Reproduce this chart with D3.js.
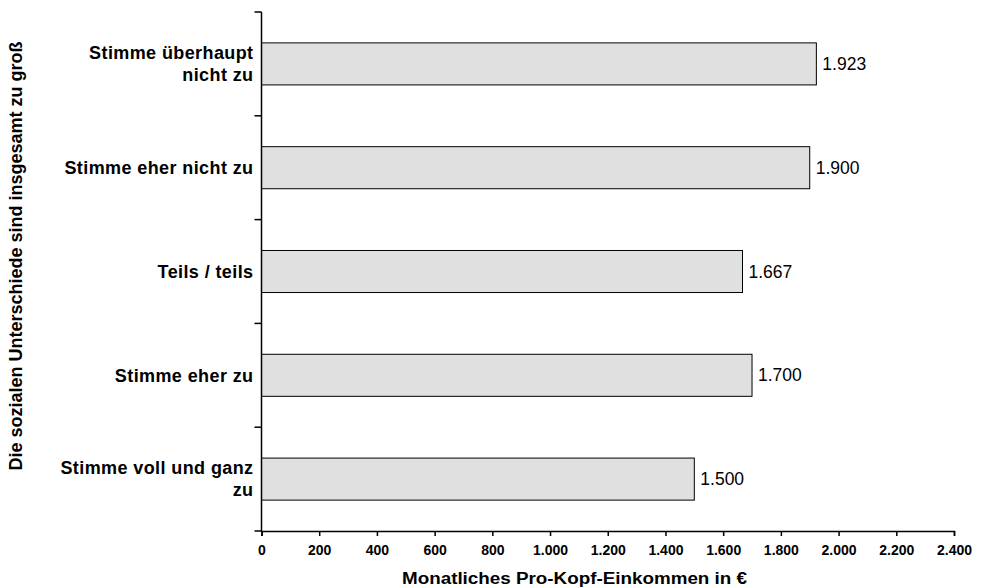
<!DOCTYPE html>
<html>
<head>
<meta charset="utf-8">
<script src="https://cdn.jsdelivr.net/npm/d3@7"></script>
<style>
  body { margin: 0; background: #fff; }
  svg { display: block; font-family: "Liberation Sans", Arial, sans-serif; }
</style>
</head>
<body>
<svg id="chart" width="988" height="588"></svg>
<script>
// Answer categories (top to bottom) and monthly per-capita income
const categories = [
  ["Stimme überhaupt", "nicht zu"],
  ["Stimme eher nicht zu"],
  ["Teils / teils"],
  ["Stimme eher zu"],
  ["Stimme voll und ganz", "zu"]
];
const incomes = [1923, 1900, 1667, 1700, 1500];
const xTicks = [0, 200, 400, 600, 800, 1000, 1200, 1400, 1600, 1800, 2000, 2200, 2400];
const xTitle = "Monatliches Pro-Kopf-Einkommen in €";
const yTitle = "Die sozialen Unterschiede sind insgesamt zu groß";

const svg = d3.select("#chart");
const m = { left: 261.5, right: 34, top: 12, bottom: 57 };
const W = 988, H = 588;

const fmt = v => d3.format(",")(v).replace(/,/g, ".");

const x = d3.scaleLinear().domain([0, 2400]).range([m.left, W - m.right]);
const y = d3.scaleBand().domain(d3.range(categories.length))
  .range([m.top, H - m.bottom]).paddingInner(0.595).paddingOuter(0.2975);

// bars
svg.append("g").selectAll("rect").data(incomes).join("rect")
  .attr("x", x(0)).attr("y", (d, i) => y(i))
  .attr("width", d => x(d) - x(0)).attr("height", y.bandwidth())
  .attr("fill", "#e0e0e0").attr("stroke", "#000").attr("stroke-width", 1);

// value labels
svg.append("g").selectAll("text").data(incomes).join("text")
  .attr("x", d => x(d) + 6).attr("y", (d, i) => y(i) + y.bandwidth() / 2)
  .attr("dy", "0.35em").attr("font-size", 17.5).attr("fill", "#000")
  .text(d => fmt(d));

// y axis line and boundary ticks
const yEdges = d3.range(categories.length + 1).map(i => m.top + i * (H - m.bottom - m.top) / categories.length);
svg.append("line").attr("x1", m.left).attr("x2", m.left)
  .attr("y1", m.top).attr("y2", H - m.bottom).attr("stroke", "#000").attr("stroke-width", 1.5);
svg.append("g").selectAll("line").data(yEdges).join("line")
  .attr("x1", m.left - 7).attr("x2", m.left).attr("y1", d => d).attr("y2", d => d)
  .attr("stroke", "#000").attr("stroke-width", 1.5);

// category labels
const catG = svg.append("g").selectAll("text").data(categories).join("text")
  .attr("text-anchor", "end").attr("font-size", 18).attr("font-weight", "bold")
  .attr("letter-spacing", 0.4).attr("fill", "#000");
catG.each(function(lines, i) {
  const t = d3.select(this);
  const cy = y(i) + y.bandwidth() / 2;
  const lh = 22;
  lines.forEach((ln, k) => {
    t.append("tspan").attr("x", m.left - 8)
      .attr("y", cy + (k - (lines.length - 1) / 2) * lh)
      .attr("dy", "0.35em").text(ln);
  });
});

// x axis
const xAxis = d3.axisBottom(x).tickValues(xTicks).tickSize(5).tickPadding(9).tickFormat(fmt);
const gx = svg.append("g").attr("transform", `translate(0,${H - m.bottom})`).call(xAxis);
gx.select(".domain").attr("stroke", "#000").attr("stroke-width", 1.5);
gx.selectAll(".tick line").attr("stroke", "#000").attr("stroke-width", 1.5);
gx.selectAll(".tick text").attr("font-size", 14).attr("font-weight", "bold")
  .attr("font-family", "Liberation Sans, Arial, sans-serif").attr("fill", "#000");

// axis titles
svg.append("text").attr("x", 574.5).attr("y", 584).attr("text-anchor", "middle")
  .attr("font-size", 16).attr("font-weight", "bold")
  .attr("textLength", 345).attr("lengthAdjust", "spacingAndGlyphs").text(xTitle);
svg.append("text").attr("transform", "translate(22,256) rotate(-90)")
  .attr("text-anchor", "middle").attr("font-size", 18).attr("font-weight", "bold").text(yTitle);
</script>
</body>
</html>
